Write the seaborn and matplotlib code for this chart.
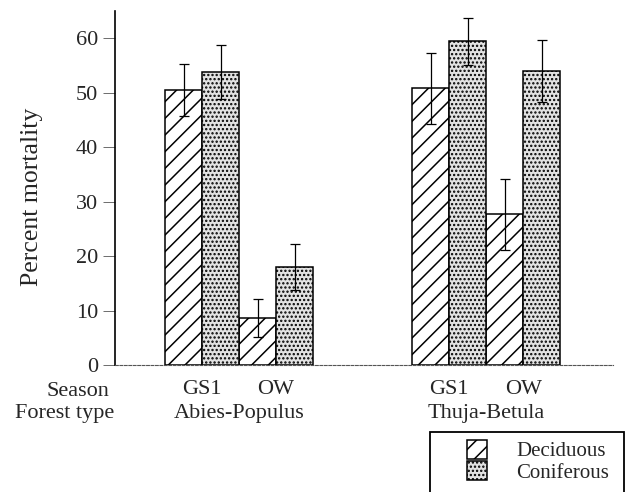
import matplotlib
matplotlib.use("Agg")
import matplotlib.pyplot as plt
import seaborn as sns
import pandas as pd
from matplotlib.patches import Rectangle

# ---- data ----
seasons = ["GS1", "OW", "GS1", "OW"]
forest_types = ["Abies-Populus", "Abies-Populus", "Thuja-Betula", "Thuja-Betula"]
deciduous = [50.5, 8.6, 50.8, 27.7]
deciduous_err = [4.8, 3.5, 6.5, 6.5]
coniferous = [53.8, 18.0, 59.4, 54.0]
coniferous_err = [5.0, 4.2, 4.3, 5.7]
hue_levels = ["Deciduous", "Coniferous"]
yticks = [0, 10, 20, 30, 40, 50, 60]

# ---- layout (group positions on the x axis) ----
group_pos = [0.0, 1.0, 3.34, 4.34]

rows = []
for i in range(len(seasons)):
    rows.append(dict(pos=group_pos[i], season=seasons[i], forest=forest_types[i],
                     type="Deciduous", value=deciduous[i], err=deciduous_err[i]))
    rows.append(dict(pos=group_pos[i], season=seasons[i], forest=forest_types[i],
                     type="Coniferous", value=coniferous[i], err=coniferous_err[i]))
df = pd.DataFrame(rows)

sns.set_theme(style="white")
plt.rcParams["font.family"] = ["Liberation Serif", "DejaVu Serif"]
plt.rcParams["hatch.linewidth"] = 1.1

W, H = 629, 492
FS = 16
fig = plt.figure(figsize=(W / 100, H / 100), dpi=100)
ax = fig.add_axes([115 / W, 1 - 365 / H, 498 / W, 354 / H])

sns.barplot(data=df, x="pos", y="value", hue="type", hue_order=hue_levels,
            native_scale=True, width=1.0, errorbar=None,
            palette=["white", "#e2e2e2"], saturation=1,
            edgecolor="black", linewidth=1.1, legend=False, ax=ax)

hatches = ["//", "...."]
for cont, lvl, h in zip(ax.containers, hue_levels, hatches):
    for p in cont.patches:
        p.set_hatch(h)
        if lvl == "Coniferous" and hasattr(p, "set_hatchcolor"):
            try:
                p.set_hatchcolor("#777777")
            except Exception:
                pass
    sub = df[df["type"] == lvl].sort_values("pos")
    xs = [p.get_x() + p.get_width() / 2 for p in cont.patches]
    hs = [p.get_height() for p in cont.patches]
    ax.errorbar(xs, hs, yerr=sub["err"].values, fmt="none", ecolor="black",
                elinewidth=0.9, capsize=3.5, capthick=0.9, zorder=5)

ax.set_ylim(0, 65)
ax.set_xlim(-1.176, 5.554)
ax.set_yticks(yticks)
ax.set_xticks(group_pos, seasons)
ax.tick_params(axis="y", left=True, direction="out", length=8.5, width=0.6,
               color="#555555", labelsize=FS, pad=3.5)
ax.tick_params(axis="x", bottom=False, length=0, labelsize=FS, pad=11)
ax.set_xlabel("")
ax.set_ylabel("Percent mortality", fontsize=18.5)
ax.yaxis.set_label_coords((43 - 115) / 498, (365 - 197) / 354)

for s in ["top", "right"]:
    ax.spines[s].set_visible(False)
ax.spines["left"].set_color("black")
ax.spines["left"].set_linewidth(1.2)
ax.spines["bottom"].set_color("#555555")
ax.spines["bottom"].set_linewidth(0.8)
ax.spines["bottom"].set_linestyle((0, (2.5, 1.5)))

# forest-type labels under each pair of seasons
tr = ax.get_xaxis_transform()
for f in dict.fromkeys(forest_types):
    xc = df[df["forest"] == f]["pos"].mean()
    ax.text(xc, (365 - 418) / 354, f, transform=tr, ha="center", va="baseline", fontsize=FS)

ax.text((77.5 - 115) / 498, (365 - 396) / 354, "Season", transform=ax.transAxes,
        ha="center", va="baseline", fontsize=FS)
ax.text((65 - 115) / 498, (365 - 418) / 354, "Forest type", transform=ax.transAxes,
        ha="center", va="baseline", fontsize=FS)

# legend
fig.patches.append(Rectangle((430 / W, -0.05), (624 - 430) / W, 0.05 + (1 - 432 / H),
                             transform=fig.transFigure, fill=False,
                             edgecolor="black", linewidth=1.3))
fig.legend(ax.containers, hue_levels, loc="upper left",
           bbox_to_anchor=(467 / W, 1 - 440 / H), frameon=False, fontsize=15,
           handlelength=0.95, handleheight=1.0, labelspacing=0.0,
           handletextpad=1.4, borderpad=0, borderaxespad=0)

fig.savefig("out.png", dpi=100)
